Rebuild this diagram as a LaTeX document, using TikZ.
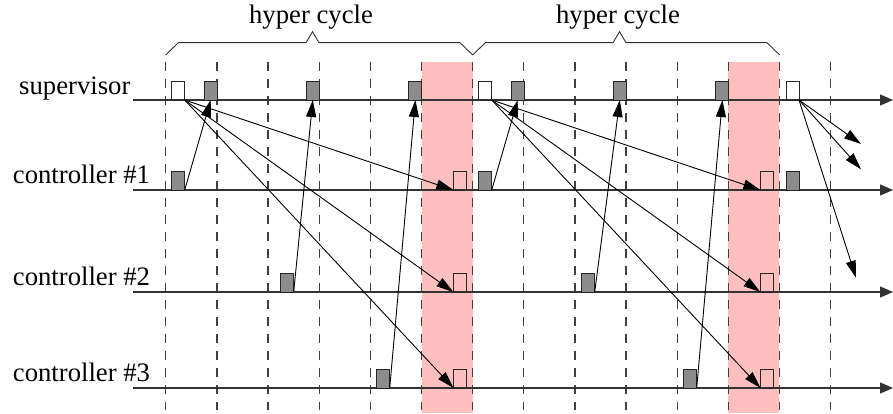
\documentclass[tikz,border=0pt]{standalone}
\usepackage{fontspec}
\setmainfont{Liberation Serif}
\usetikzlibrary{arrows.meta}
\definecolor{critical}{RGB}{255,191,191}
\definecolor{taskgray}{RGB}{140,140,140}
\begin{document}
\begin{tikzpicture}[x=1pt,y=-1pt,
  slotline/.style={draw=black!75, line width=1.3pt, dash pattern=on 9pt off 8pt},
  timeline/.style={draw=black!80, line width=1.3pt, -{Triangle[length=13pt,width=11pt]}},
  msg/.style={draw=black, line width=0.9pt, -{Triangle[length=17pt,width=10pt]}},
  slotbox/.style={draw=black!85, line width=0.9pt, minimum width=13pt, minimum height=19pt,
                  inner sep=0pt, outer sep=0pt, anchor=south west},
  taskbox/.style={slotbox, fill=taskgray},
  framebox/.style={slotbox},
  lanetext/.style={font=\fontsize{26.7}{30}\selectfont, inner sep=0pt, anchor=base west},
  bracket/.style={draw=black!80, line width=0.9pt}]
\useasboundingbox (0,0) rectangle (893,414);

% critical windows at the end of each hyper cycle
\fill[critical] (422,62) rectangle (472.7,412.7);
\fill[critical] (728.3,62) rectangle (779.3,412.7);

% slot boundaries
\foreach \k in {0,...,13}
  \draw[slotline] ({165.7+51.15*\k},62) -- ({165.7+51.15*\k},410);

% time axes
\foreach \n/\y in {sup/100, ca/190, cb/292, cc/388} {
  \coordinate (\n L) at (133,\y);
  \coordinate (\n R) at (893,\y);
  \draw[timeline] (\n L) -- (\n R);
}

% lane labels
\node[lanetext] (tsup) at (19,95) {supervisor};
\node[lanetext] (tca) at (12.7,183) {controller \#1};
\node[lanetext] (tcb) at (12.7,285) {controller \#2};
\node[lanetext] (tcc) at (12.7,381) {controller \#3};

% two full hyper cycles
\foreach \c/\n/\g in {0/1/280.7, 307/2/581.7} {
  % supervisor
  \node[framebox] (sw\n)  at ({171.7+\c},100) {};
  \node[taskbox]  (sga\n) at ({204.2+\c},100) {};
  \node[taskbox]  (sgb\n) at ({306.3+\c},100) {};
  \node[taskbox]  (sgc\n) at ({408.9+\c},100) {};
  % controller #1
  \node[taskbox]  (cag\n) at ({171.7+\c},190) {};
  \node[framebox] (caw\n) at ({453.3+\c},190) {};
  % controller #2
  \node[taskbox]  (cbg\n) at (\g,292) {};
  \node[framebox] (cbw\n) at ({453.3+\c},292) {};
  % controller #3
  \node[taskbox]  (ccg\n) at ({376.7+\c},388) {};
  \node[framebox] (ccw\n) at ({453.5+\c},388) {};
  % messages
  \draw[msg] (sw\n.south east) -- (caw\n.south west);
  \draw[msg] (sw\n.south east) -- (cbw\n.south west);
  \draw[msg] (sw\n.south east) -- (ccw\n.south west);
  \draw[msg] (cag\n.south east) -- (sga\n.south);
  \draw[msg] (cbg\n.south east) -- (sgb\n.south);
  \draw[msg] (ccg\n.south east) -- (sgc\n.south);
}

% start of the next hyper cycle
\node[framebox] (sw3)  at (786,100) {};
\node[taskbox]  (cag3) at (786,190) {};
\coordinate (nxa) at (861,144);
\coordinate (nxb) at (861,169.3);
\coordinate (nxc) at (856,277.7);
\draw[msg] (sw3.south east) -- (nxa);
\draw[msg] (sw3.south east) -- (nxb);
\draw[msg] (sw3.south east) -- (nxc);

% hyper cycle brackets
\foreach \c in {0,307}
  \draw[bracket] ({165.7+\c},55) -- ({178.3+\c},42.7) -- ({306+\c},42.7) -- ({312.5+\c},31.7)
                 -- ({319+\c},42.7) -- ({460+\c},42.7) -- ({472.7+\c},55);
\node[lanetext, anchor=base] (hc1) at (311,24) {hyper cycle};
\node[lanetext, anchor=base] (hc2) at (618,24) {hyper cycle};
\end{tikzpicture}
\end{document}
